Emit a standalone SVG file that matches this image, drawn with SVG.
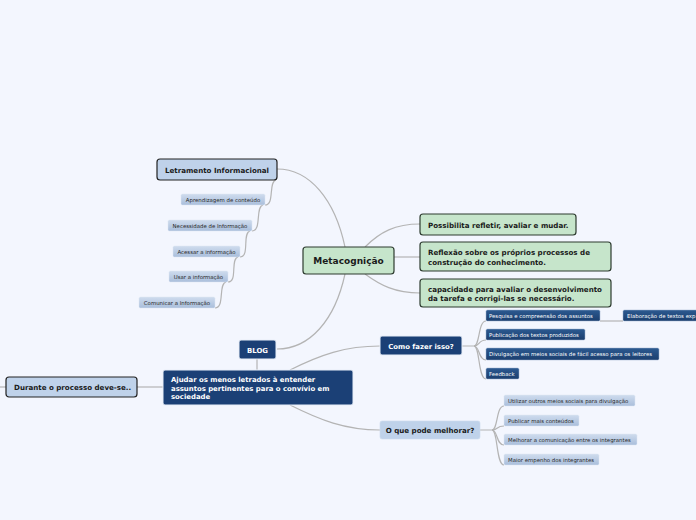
<svg xmlns="http://www.w3.org/2000/svg" width="696" height="520" viewBox="0 0 696 520">
<defs>
<linearGradient id="gl" x1="0" y1="0" x2="0" y2="1"><stop offset="0" stop-color="#cfdcee"/><stop offset="1" stop-color="#a9bedb"/></linearGradient>
<linearGradient id="gd" x1="0" y1="0" x2="0" y2="1"><stop offset="0" stop-color="#2c5a91"/><stop offset="1" stop-color="#1b3e6e"/></linearGradient>
<style>
.bg{fill:#f3f6fe}
.c{fill:none;stroke:#b4b4b4;stroke-width:1.2}
.lb{fill:#bfd2ea;stroke:#222;stroke-width:1.2}
.gr{fill:#c6e5cb;stroke:#2d3b2f;stroke-width:1.2}
.db{fill:#1b4076;stroke:#e8eef8;stroke-width:1}
.lt{fill:#bfd2ea;stroke:#cfdcee;stroke-width:0.6}
.sl{fill:url(#gl);stroke:#dde6f2;stroke-width:0.5}
.sd{fill:url(#gd);stroke:#9fb3cf;stroke-width:0.5}
text{font-family:"DejaVu Sans",Verdana,sans-serif}
.t1{font-size:7.1px;font-weight:bold;fill:#1a1a1a}
.t2{font-size:9px;font-weight:bold;fill:#1a1a1a}
.tw{font-size:6.9px;font-weight:bold;fill:#fff}
.s1{font-size:5.4px;fill:#2a2a2a}
.s2{font-size:5.4px;fill:#fff}
</style>
</defs>
<rect class="bg" x="0" y="0" width="696" height="520"/>
<g id="connectors">
<path class="c" d="M345,247 C335,200 310,169 277,169"/>
<path class="c" d="M345,274 C335,320 310,349 277,349"/>
<path class="c" d="M365,247 C380,232 395,224 420,224"/>
<path class="c" d="M394,257 L420,257"/>
<path class="c" d="M365,274 C380,285 395,293 420,293"/>
<path class="c" d="M276,180 C268,182 275,205 265,205"/>
<path class="c" d="M263,205 C255,207 262,231 252,231"/>
<path class="c" d="M250,231 C242,233 250,257 240,257"/>
<path class="c" d="M238,257 C230,259 238,282 228,282"/>
<path class="c" d="M226,282 C218,284 225,308 215,308"/>
<path class="c" d="M257,359 L257,370"/>
<path class="c" d="M163,387 L137,387"/>
<path class="c" d="M6,387 L0,387"/>
<path class="c" d="M290,370 C320,355 345,346 380,346"/>
<path class="c" d="M290,405 C320,420 345,430 380,430"/>
<path class="c" d="M462,346 L474,346 C480,346 478,321 486,321"/>
<path class="c" d="M474,346 C480,346 478,340 486,340"/>
<path class="c" d="M474,346 C480,346 478,360 486,360"/>
<path class="c" d="M474,346 C480,346 478,379 486,379"/>
<path class="c" d="M600,321 L623,321"/>
<path class="c" d="M480,430 L492,430 C498,430 496,406 504,406"/>
<path class="c" d="M492,430 C498,430 496,426 504,426"/>
<path class="c" d="M492,430 C498,430 496,445 504,445"/>
<path class="c" d="M492,430 C498,430 496,465 504,465"/>
</g>
<g id="metacognicao"><rect class="gr" x="303" y="247" width="91" height="27" rx="3"/><text class="t2" x="348.5" y="264" text-anchor="middle">Metacognição</text></g>
<g id="letramento"><rect class="lb" x="157" y="159" width="120" height="21" rx="3"/><text class="t1" x="217" y="172.5" text-anchor="middle">Letramento Informacional</text></g>
<g id="aprendizagem"><rect class="sl" x="181" y="194" width="84" height="11" rx="1.5"/><text class="s1" x="223" y="201.7" text-anchor="middle">Aprendizagem de conteúdo</text></g>
<g id="necessidade"><rect class="sl" x="168" y="220" width="84" height="11" rx="1.5"/><text class="s1" x="210" y="227.7" text-anchor="middle">Necessidade de Informação</text></g>
<g id="acessar"><rect class="sl" x="173" y="246" width="67" height="11" rx="1.5"/><text class="s1" x="206.5" y="253.7" text-anchor="middle">Acessar a informação</text></g>
<g id="usar"><rect class="sl" x="169" y="271" width="59" height="11" rx="1.5"/><text class="s1" x="198.5" y="278.7" text-anchor="middle">Usar a informação</text></g>
<g id="comunicar"><rect class="sl" x="139" y="297" width="76" height="11" rx="1.5"/><text class="s1" x="177" y="304.7" text-anchor="middle">Comunicar a Informação</text></g>
<g id="possibilita"><rect class="gr" x="420" y="214" width="156" height="21" rx="3"/><text class="t1" x="428" y="227.5">Possibilita refletir, avaliar e mudar.</text></g>
<g id="reflexao"><rect class="gr" x="420" y="242" width="191" height="29" rx="3"/><text class="t1" x="428" y="255">Reflexão sobre os próprios processos de</text><text class="t1" x="428" y="264.5">construção do conhecimento.</text></g>
<g id="capacidade"><rect class="gr" x="420" y="279" width="191" height="28" rx="3"/><text class="t1" x="428" y="291.5">capacidade para avaliar o desenvolvimento</text><text class="t1" x="428" y="301">da tarefa e corrigi-las se necessário.</text></g>
<g id="blog"><rect class="db" x="239" y="340" width="37" height="19" rx="2"/><text class="tw" x="257.5" y="352.5" text-anchor="middle">BLOG</text></g>
<g id="ajudar"><rect class="db" x="163" y="370" width="190" height="35" rx="2"/><text class="tw" x="171" y="382">Ajudar os menos letrados à entender</text><text class="tw" x="171" y="390.5">assuntos pertinentes para o convívio em</text><text class="tw" x="171" y="399">sociedade</text></g>
<g id="durante"><rect class="lb" x="6" y="377" width="131" height="20" rx="3"/><text class="t1" x="14" y="390">Durante o processo deve-se..</text></g>
<g id="como"><rect class="db" x="380" y="336" width="82" height="19" rx="2"/><text class="tw" x="421" y="348.5" text-anchor="middle">Como fazer isso?</text></g>
<g id="oque"><rect class="lt" x="380" y="421" width="100" height="18" rx="2"/><text class="t1" x="430" y="433" text-anchor="middle">O que pode melhorar?</text></g>
<g id="pesquisa"><rect class="sd" x="486" y="310" width="114" height="11" rx="1.5"/><text class="s2" x="489" y="317.7">Pesquisa e compreensão dos assuntos</text></g>
<g id="elaboracao"><rect class="sd" x="623" y="310" width="80" height="11" rx="1.5"/><text class="s2" x="627" y="317.7">Elaboração de textos exp</text></g>
<g id="publicacao"><rect class="sd" x="486" y="329" width="99" height="11" rx="1.5"/><text class="s2" x="489" y="336.7">Publicação dos textos produzidos</text></g>
<g id="divulgacao"><rect class="sd" x="486" y="348" width="173" height="12" rx="1.5"/><text class="s2" x="489" y="356.2">Divulgação em meios sociais de fácil acesso para os leitores</text></g>
<g id="feedback"><rect class="sd" x="486" y="368" width="33" height="11" rx="1.5"/><text class="s2" x="489" y="375.7">Feedback</text></g>
<g id="utilizar"><rect class="sl" x="504" y="395" width="131" height="11" rx="1.5"/><text class="s1" x="508" y="402.7">Utilizar outros meios sociais para divulgação</text></g>
<g id="publicar"><rect class="sl" x="504" y="415" width="75" height="11" rx="1.5"/><text class="s1" x="508" y="422.7">Publicar mais conteúdos</text></g>
<g id="melhorar"><rect class="sl" x="504" y="434" width="133" height="11" rx="1.5"/><text class="s1" x="508" y="441.7">Melhorar a comunicação entre os integrantes</text></g>
<g id="maior"><rect class="sl" x="504" y="454" width="95" height="11" rx="1.5"/><text class="s1" x="508" y="461.7">Maior empenho dos integrantes</text></g>
</svg>
